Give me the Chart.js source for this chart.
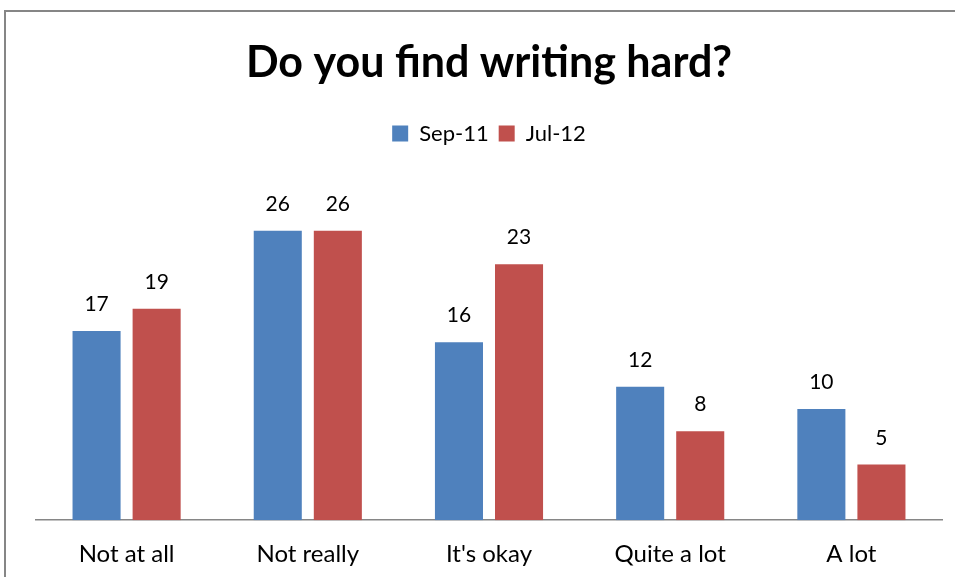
<!DOCTYPE html>
<html>
<head>
<meta charset="utf-8">
<script src="https://cdn.jsdelivr.net/npm/chart.js@4/dist/chart.umd.min.js"></script>
<style>
  html, body { margin: 0; padding: 0; background: #fff; }
  #wrap { width: 955px; height: 577px; }
</style>
</head>
<body>
<div id="wrap"><canvas id="myChart" width="955" height="577"></canvas></div>
<script>
// dados do grafico
var categorias = ['Not at all', 'Not really', "It's okay", 'Quite a lot', 'A lot'];
var serieSep11 = [17, 26, 16, 12, 10];
var serieJul12 = [19, 26, 23, 8, 5];
var nomesSeries = ['Sep-11', 'Jul-12'];

var fonte = "Lato, Calibri, 'Open Sans', sans-serif";

// moldura cinza e fundo branco
var moldura = {
    id: 'moldura',
    beforeDraw: (chart) => {
        var c = chart.ctx;
        c.save();
        c.fillStyle = '#fff';
        c.fillRect(0, 0, chart.width, chart.height);
        c.strokeStyle = '#868686';
        c.lineWidth = 2;
        c.strokeRect(5, 11, chart.width + 20, chart.height + 20);
        c.restore();
    }
};

// numeros em cima das barras
var rotulos = {
    id: 'rotulos',
    afterDatasetsDraw: (chart) => {
        var c = chart.ctx;
        c.save();
        c.font = '21px ' + fonte;
        c.fillStyle = '#000';
        c.textAlign = 'center';
        c.textBaseline = 'alphabetic';
        chart.data.datasets.forEach((ds, i) => {
            chart.getDatasetMeta(i).data.forEach((barra, j) => {
                c.fillText(ds.data[j], barra.x, barra.y - 20);
            });
        });
        c.restore();
    }
};

var ctx = document.getElementById('myChart').getContext('2d');
var myChart = new Chart(ctx, {
    type: 'bar',
    data: {
        labels: categorias,
        datasets: [{
            label: nomesSeries[0],
            data: serieSep11,
            backgroundColor: '#4F81BD'
        }, {
            label: nomesSeries[1],
            data: serieJul12,
            backgroundColor: '#C0504D'
        }]
    },
    options: {
        responsive: false,
        animation: false,
        categoryPercentage: 0.663,
        barPercentage: 0.8,
        layout: { padding: { left: 36, right: 13, top: 0, bottom: -12 } },
        plugins: {
            title: {
                display: true,
                text: 'Do you find writing hard?',
                color: '#000',
                font: { family: fonte, size: 43, weight: 'bold' },
                padding: { top: 37, bottom: 24 }
            },
            legend: {
                display: true,
                labels: {
                    color: '#000',
                    font: { family: fonte, size: 22 },
                    boxWidth: 16,
                    boxHeight: 16,
                    padding: 10
                }
            },
            tooltip: { enabled: false }
        },
        scales: {
            x: {
                grid: { display: false, drawTicks: false },
                border: { display: true, color: '#868686', width: 1.5 },
                ticks: { color: '#000', font: { family: fonte, size: 24 }, padding: 20 }
            },
            y: {
                display: false,
                min: 0,
                max: 32.85
            }
        }
    },
    plugins: [moldura, rotulos]
});
</script>
</body>
</html>
